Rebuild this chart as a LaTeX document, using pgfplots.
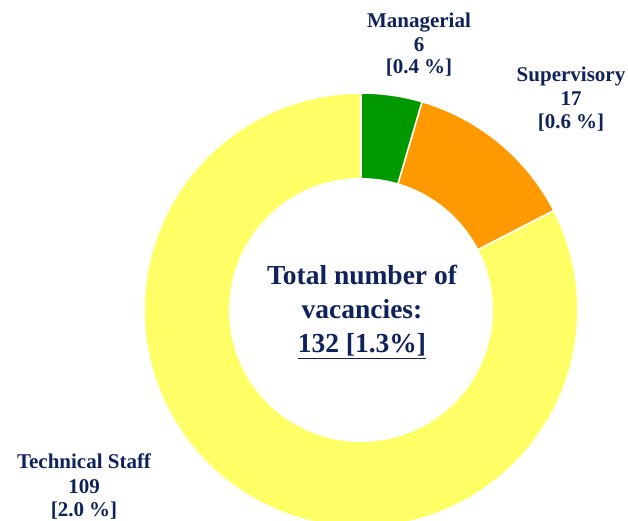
\documentclass[border=0pt]{standalone}
\usepackage{pgfplots}
\pgfplotsset{compat=1.18}
\usepackage{fontspec}
\setmainfont{Liberation Serif}
\definecolor{mgreen}{RGB}{0,153,0}
\definecolor{morange}{RGB}{255,153,0}
\definecolor{myellow}{RGB}{255,255,102}
\definecolor{navy}{RGB}{15,35,90}
\tikzset{lbl/.style={anchor=base,text=navy,font=\bfseries\fontsize{21bp}{24bp}\selectfont,inner sep=0pt},
  ctr/.style={anchor=base,text=navy,font=\bfseries\fontsize{27.5bp}{30bp}\selectfont,inner sep=0pt}}
% values
\def\vM{6}\def\vS{17}\def\vT{109}
\pgfmathsetmacro{\tot}{\vM+\vS+\vT}
\pgfmathsetmacro{\aA}{90}
\pgfmathsetmacro{\aB}{90-360*(\vM/\tot)}
\pgfmathsetmacro{\aC}{\aB-360*(\vS/\tot)}
\pgfmathsetmacro{\aD}{\aC-360*(\vT/\tot)}
\def\cx{361}\def\cy{211}\def\R{217}\def\r{132}
\begin{document}
\begin{tikzpicture}
\useasboundingbox (0,0) rectangle (628bp,521bp);
\begin{axis}[x=1bp,y=1bp,xmin=0,xmax=628,ymin=0,ymax=521,
  scale only axis,hide axis,clip=true,anchor=south west,at={(0,0)}]
\addplot[fill=mgreen,draw=white,line width=1.5bp,domain=\aB:\aA,samples=30,variable=\t]
  ({\cx+\R*cos(\t)},{\cy+\R*sin(\t)}) -- (axis cs:\cx,\cy) -- cycle;
\addplot[fill=morange,draw=white,line width=1.5bp,domain=\aC:\aB,samples=60,variable=\t]
  ({\cx+\R*cos(\t)},{\cy+\R*sin(\t)}) -- (axis cs:\cx,\cy) -- cycle;
\addplot[fill=myellow,draw=white,line width=1.5bp,domain=\aD:\aC,samples=240,variable=\t]
  ({\cx+\R*cos(\t)},{\cy+\R*sin(\t)}) -- (axis cs:\cx,\cy) -- cycle;
\addplot[fill=white,draw=none,domain=0:360,samples=240,variable=\t]
  ({\cx+\r*cos(\t)},{\cy+\r*sin(\t)}) -- cycle;
% labels
\node[lbl] at (axis cs:419,493) {Managerial};
\node[lbl] at (axis cs:419,469) {6};
\node[lbl] at (axis cs:419,447) {[0.4 \%]};
\node[lbl] at (axis cs:571,439) {Supervisory};
\node[lbl] at (axis cs:571,415) {17};
\node[lbl] at (axis cs:571,393) {[0.6 \%]};
\node[lbl] at (axis cs:84,53) {Technical Staff};
\node[lbl] at (axis cs:84,28) {109};
\node[lbl] at (axis cs:84,5) {[2.0 \%]};
\node[ctr] at (axis cs:362,236) {Total number of};
\node[ctr] at (axis cs:362,202) {vacancies:};
\node[ctr] at (axis cs:362,168) {\underline{132 [1.3\%]}};
\end{axis}
\end{tikzpicture}
\end{document}
